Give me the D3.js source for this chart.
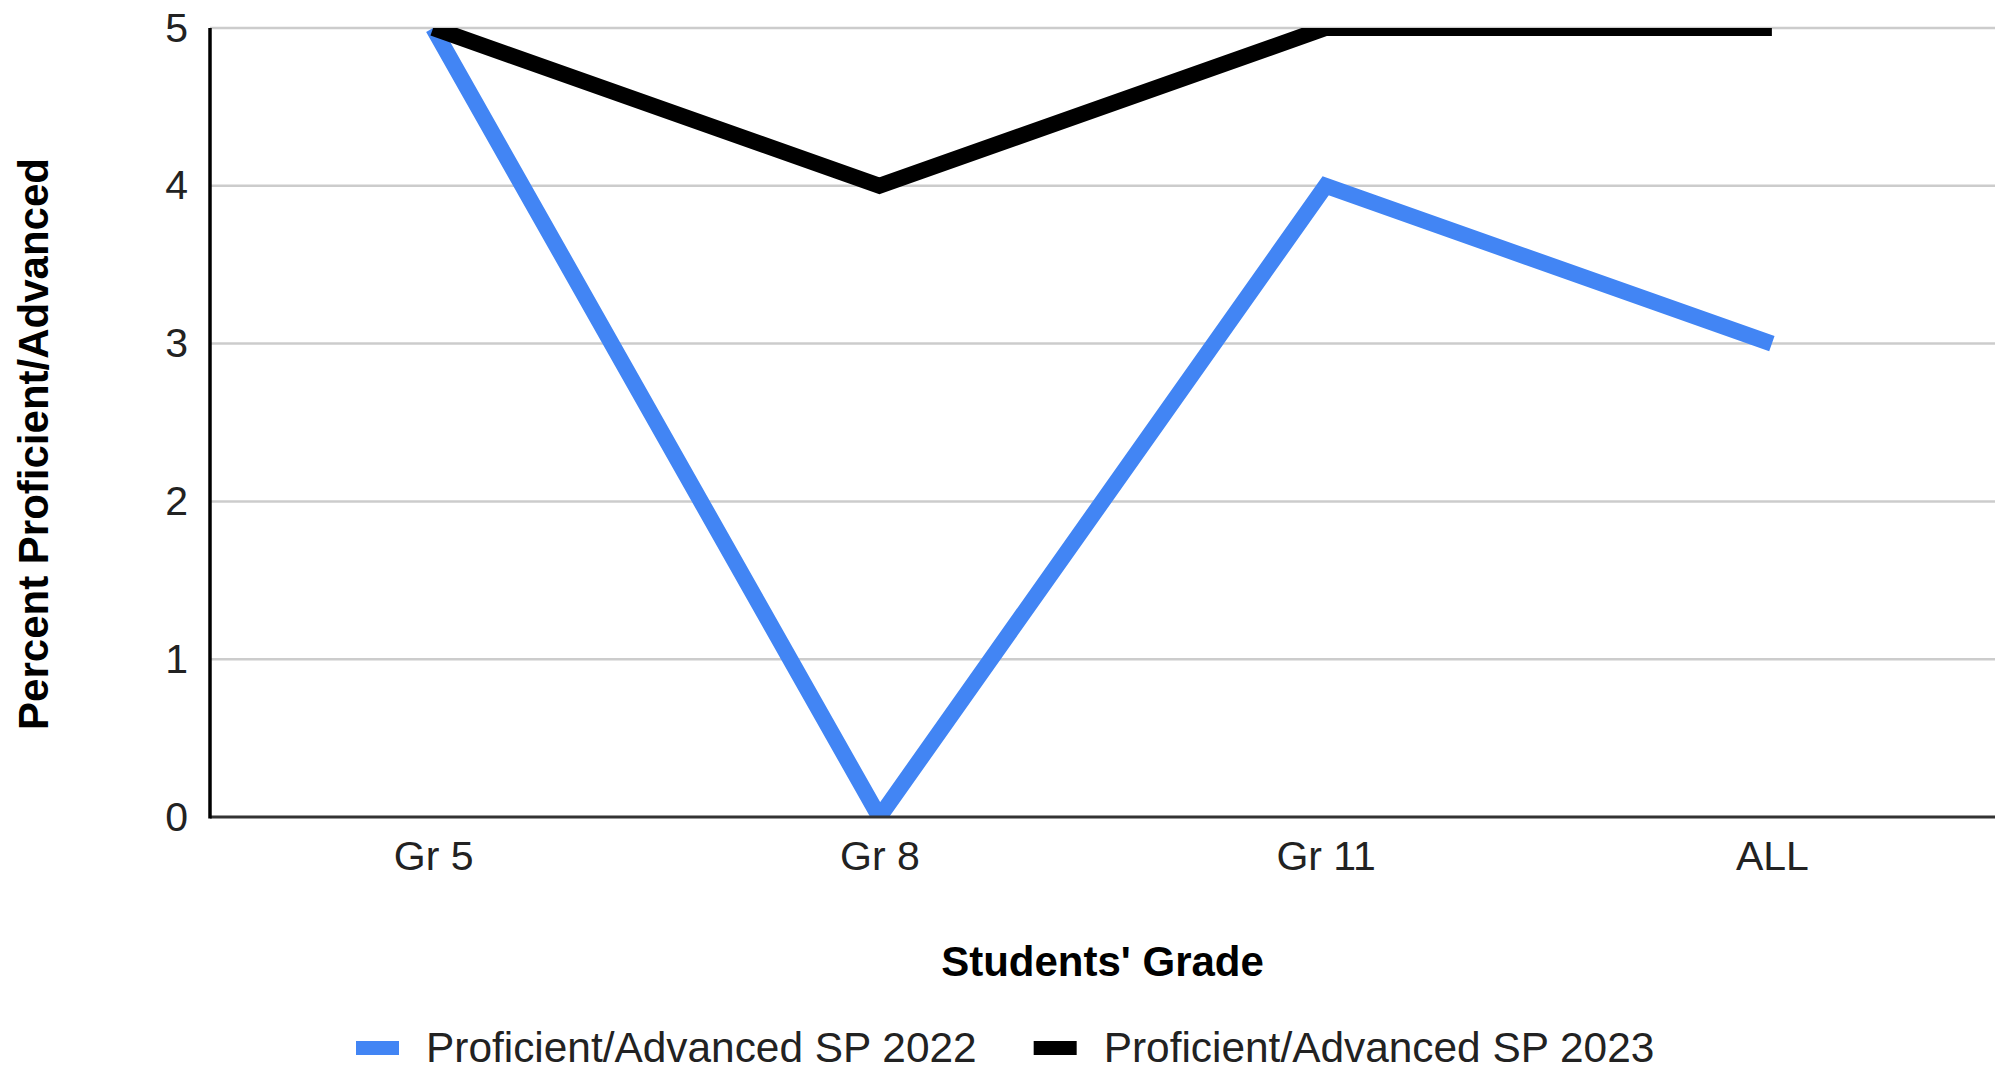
<!DOCTYPE html>
<html>
<head>
<meta charset="utf-8">
<script src="https://cdn.jsdelivr.net/npm/d3@7"></script>
<style>
  html, body { margin: 0; padding: 0; background: #fff; }
  svg { display: block; }
  text { font-family: Arial, "Liberation Sans", sans-serif; }
</style>
</head>
<body>
<svg id="chart" width="2007" height="1078"></svg>
<script>
const categories = ["Gr 5", "Gr 8", "Gr 11", "ALL"];
const sp2022 = [5, 0, 4, 3];
const sp2023 = [5, 4, 5, 5];
const seriesNames = ["Proficient/Advanced SP 2022", "Proficient/Advanced SP 2023"];
const seriesColors = ["#4285F4", "#000000"];
const yTicks = [0, 1, 2, 3, 4, 5];
const xTitle = "Students' Grade";
const yTitle = "Percent Proficient/Advanced";

const svg = d3.select("#chart");
const m = { left: 210, right: 1995, top: 28, bottom: 817 };

const x = d3.scalePoint().domain(categories).range([m.left, m.right]).padding(0.5);
const y = d3.scaleLinear().domain([0, 5]).range([m.bottom, m.top]);

// gridlines
svg.append("g").selectAll("line").data(yTicks.filter(d => d > 0)).join("line")
  .attr("x1", m.left).attr("x2", m.right)
  .attr("y1", d => y(d)).attr("y2", d => y(d))
  .attr("stroke", "#cccccc").attr("stroke-width", 2.5);

// y tick labels
const yAxis = d3.axisLeft(y).tickValues(yTicks).tickSize(0).tickPadding(22).tickFormat(d3.format("d"));
const gy = svg.append("g").attr("transform", `translate(${m.left},0)`).call(yAxis);
gy.select(".domain").remove();
gy.selectAll("text").attr("font-size", 41).attr("fill", "#222").attr("font-family", 'Arial, "Liberation Sans", sans-serif');

// x tick labels
const xAxis = d3.axisBottom(x).tickSize(0).tickPadding(24);
const gx = svg.append("g").attr("transform", `translate(0,${m.bottom})`).call(xAxis);
gx.select(".domain").remove();
gx.selectAll("text").attr("font-size", 41).attr("fill", "#222").attr("font-family", 'Arial, "Liberation Sans", sans-serif');

// clip
svg.append("clipPath").attr("id", "plotclip").append("rect")
  .attr("x", m.left).attr("y", m.top).attr("width", m.right - m.left).attr("height", m.bottom - m.top);

const line = d3.line().x((d, i) => x(categories[i])).y(d => y(d));
const plot = svg.append("g").attr("clip-path", "url(#plotclip)");
[sp2022, sp2023].forEach((s, k) => {
  plot.append("path").datum(s)
    .attr("d", line)
    .attr("fill", "none")
    .attr("stroke", seriesColors[k])
    .attr("stroke-width", 16)
    .attr("stroke-linejoin", "miter")
    .attr("stroke-linecap", "butt");
});

// axis lines
svg.append("line").attr("x1", m.left).attr("x2", m.right).attr("y1", m.bottom).attr("y2", m.bottom)
  .attr("stroke", "#333").attr("stroke-width", 3);
svg.append("line").attr("x1", m.left).attr("x2", m.left).attr("y1", m.top).attr("y2", m.bottom + 1.5)
  .attr("stroke", "#000").attr("stroke-width", 3.5);

// axis titles
svg.append("text").attr("x", (m.left + m.right) / 2).attr("y", 976)
  .attr("text-anchor", "middle").attr("font-size", 42).attr("font-weight", "bold").attr("fill", "#000")
  .text(xTitle);
svg.append("text").attr("transform", "translate(48,444) rotate(-90)")
  .attr("text-anchor", "middle").attr("font-size", 42).attr("font-weight", "bold").attr("fill", "#000")
  .text(yTitle);

// legend
const legend = svg.append("g");
let lx = 356;
seriesNames.forEach((name, k) => {
  legend.append("rect").attr("x", lx).attr("y", 1041).attr("width", 43).attr("height", 14)
    .attr("fill", seriesColors[k]);
  const t = legend.append("text").attr("x", lx + 70).attr("y", 1062)
    .attr("font-size", 42.4).attr("fill", "#222").text(name);
  lx = lx + 70 + t.node().getComputedTextLength() + 57;
});
</script>
</body>
</html>
